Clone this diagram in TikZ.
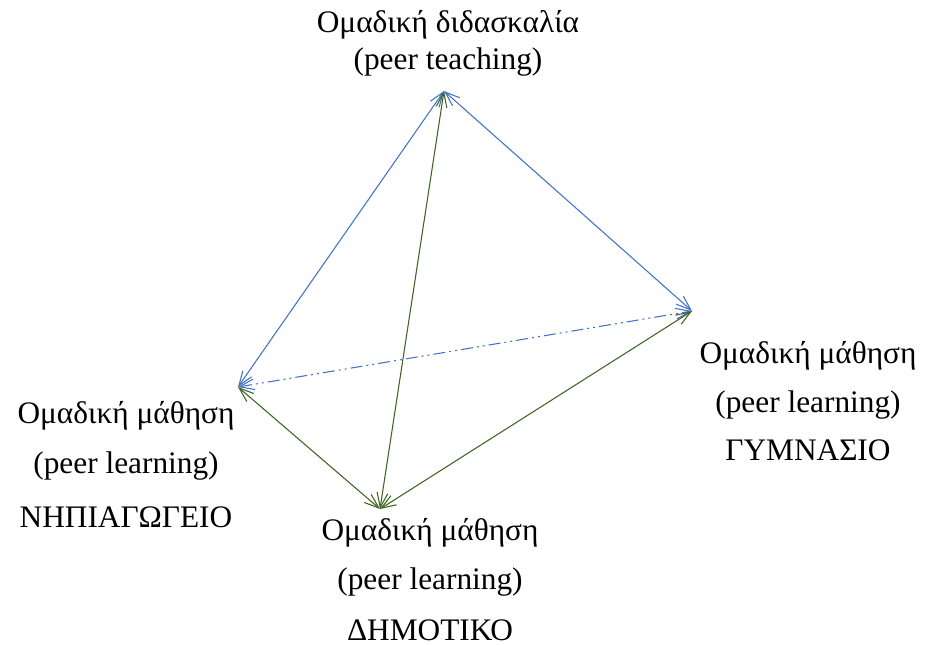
\documentclass[tikz,border=0pt]{standalone}
\usepackage{fontspec}
\setmainfont{Liberation Serif}
\usetikzlibrary{arrows.meta}
\definecolor{lblue}{RGB}{68,114,196}
\definecolor{lgreen}{RGB}{62,100,36}
\begin{document}
\begin{tikzpicture}[x=0.75pt,y=-0.75pt,
  lbl/.style={font=\fontsize{23.5}{28}\selectfont, inner sep=0pt, anchor=base},
  conn/.style={line width=0.8pt, {Straight Barb[length=11pt,width=8pt]}-{Straight Barb[length=11pt,width=8pt]}},
  bl/.style={conn, draw=lblue},
  gr/.style={conn, draw=lgreen},
  dashdd/.style={dash pattern=on 9pt off 3pt on 1.5pt off 3pt on 1.5pt off 3pt}]
\useasboundingbox (0,0) rectangle (936,645);
\coordinate (T) at (444,91);
\coordinate (L) at (238,387);
\coordinate (R) at (692,311);
\coordinate (B) at (380,509);
\draw[bl] (T) -- (L);
\draw[bl] (T) -- (R);
\draw[bl, dashdd] (L) -- (R);
\draw[gr] (T) -- (B);
\draw[gr] (L) -- (B);
\draw[gr] (B) -- (R);
\node[lbl] (t1) at (448,33) {Ομαδική διδασκαλία};
\node[lbl] (t2) at (448,70) {(peer teaching)};
\node[lbl] (r1) at (808,364) {Ομαδική μάθηση};
\node[lbl] (r2) at (808,412) {(peer learning)};
\node[lbl] (r3) at (808,460) {ΓΥΜΝΑΣΙΟ};
\node[lbl] (l1) at (126,424) {Ομαδική μάθηση};
\node[lbl] (l2) at (126,474) {(peer learning)};
\node[lbl] (l3) at (126,527) {ΝΗΠΙΑΓΩΓΕΙΟ};
\node[lbl] (b1) at (430,540) {Ομαδική μάθηση};
\node[lbl] (b2) at (430,589) {(peer learning)};
\node[lbl] (b3) at (430,640) {ΔΗΜΟΤΙΚΟ};
\end{tikzpicture}
\end{document}
